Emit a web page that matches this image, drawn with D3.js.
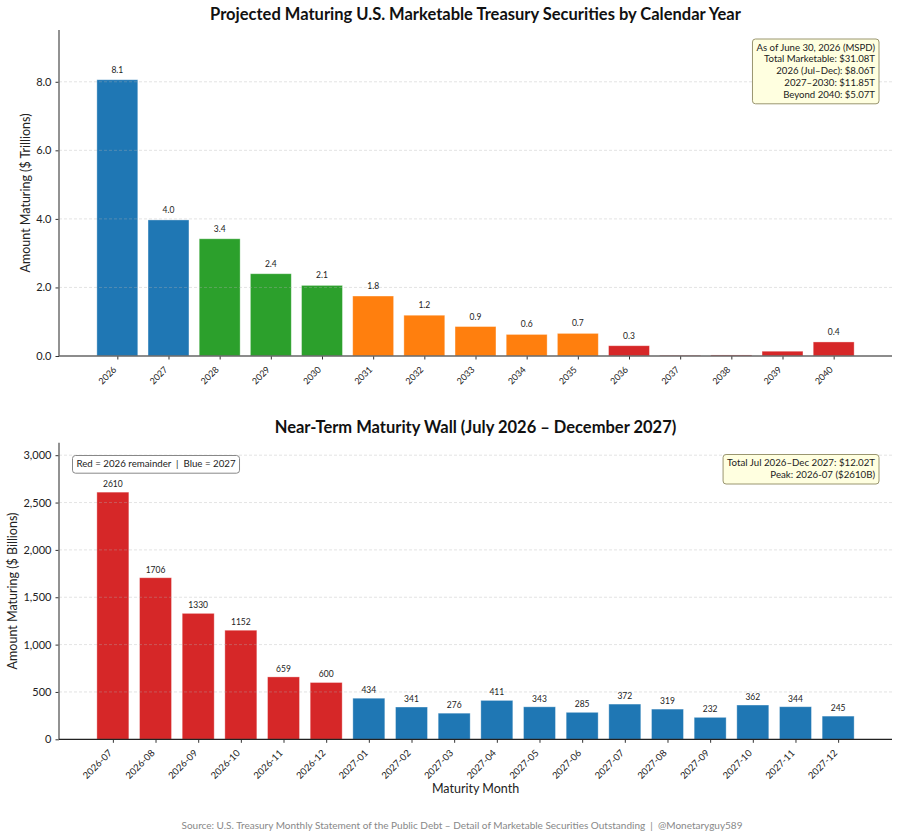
<!DOCTYPE html>
<html><head><meta charset="utf-8">
<script src="https://cdn.jsdelivr.net/npm/d3@7"></script>
<style>
body{margin:0;background:#fff;}
svg text{font-family:Lato,"Noto Sans",sans-serif;}
</style></head>
<body><svg id="c" width="900" height="840"></svg>
<script>
// ---------- data ----------
const years = ["2026","2027","2028","2029","2030","2031","2032","2033","2034","2035","2036","2037","2038","2039","2040"];
const yearValues = [8.06, 3.97, 3.42, 2.40, 2.06, 1.75, 1.19, 0.86, 0.63, 0.66, 0.30, 0.02, 0.03, 0.14, 0.41];
const yearGroups = ["near","near","mid","mid","mid","ten","ten","ten","ten","ten","long","long","long","long","long"];
const yearTicks = [0, 2, 4, 6, 8];
const yearNotes = ["As of June 30, 2026 (MSPD)","Total Marketable: $31.08T","2026 (Jul\u2013Dec): $8.06T","2027\u20132030: $11.85T","Beyond 2040: $5.07T"];

const months = ["2026-07","2026-08","2026-09","2026-10","2026-11","2026-12","2027-01","2027-02","2027-03","2027-04","2027-05","2027-06","2027-07","2027-08","2027-09","2027-10","2027-11","2027-12"];
const monthValues = [2610, 1706, 1330, 1152, 659, 600, 434, 341, 276, 411, 343, 285, 372, 319, 232, 362, 344, 245];
const monthTicks = [0, 500, 1000, 1500, 2000, 2500, 3000];
const monthNotes = ["Total Jul 2026\u2013Dec 2027: $12.02T","Peak: 2026-07 ($2610B)"];
const monthLegend = "Red = 2026 remainder  |  Blue = 2027";

const groupColor = {near:"#1f77b4", mid:"#2ca02c", ten:"#ff7f0e", long:"#d62728"};
const red = "#d62728", blue = "#1f77b4";

const svg = d3.select("#c");

function drawPanel(o){
  const g = svg.append("g");
  const x = d3.scaleLinear().domain(o.xdom).range([o.left, o.right]);
  const y = d3.scaleLinear().domain(o.ydom).range([o.bottom, o.top]);
  // bars
  g.selectAll("rect.bar").data(o.values).join("rect")
    .attr("x",(d,i)=>x(i-o.bw/2)).attr("width",(d,i)=>x(i+o.bw/2)-x(i-o.bw/2))
    .attr("y",d=>y(d)).attr("height",d=>y(0)-y(d))
    .attr("fill",(d,i)=>o.color(i)).attr("stroke","#fff").attr("stroke-opacity",0.45).attr("stroke-width",0.8);
  // grid (drawn above, faint)
  g.selectAll("line.grid").data(o.ticks.filter(t=>t>0)).join("line")
    .attr("x1",o.left).attr("x2",o.right).attr("y1",d=>y(d)).attr("y2",d=>y(d))
    .attr("stroke","#b0b0b0").attr("stroke-opacity",0.45).attr("stroke-dasharray","3,2").attr("stroke-width",0.8);
  // value labels
  g.selectAll("text.val").data(o.values).join("text")
    .attr("x",(d,i)=>x(i)).attr("y",d=>y(d)-o.labOff)
    .attr("text-anchor","middle").attr("font-size",o.labSize).attr("fill","#222")
    .text((d,i)=>o.label(d,i));
  // y axis
  const ya = g.append("g").attr("transform",`translate(${o.left},0)`)
    .call(d3.axisLeft(y).tickValues(o.ticks).tickFormat(o.yfmt).tickSize(3.5).tickPadding(4));
  ya.select(".domain").remove();
  ya.selectAll(".tick line").attr("stroke","#333");
  ya.selectAll(".tick text").attr("font-size",11).attr("fill","#222");
  g.append("line").attr("x1",o.left).attr("x2",o.left).attr("y1",o.top).attr("y2",o.bottom)
    .attr("stroke","#777").attr("stroke-width",1.6);
  // x axis
  const xa = g.append("g").attr("transform",`translate(0,${o.bottom})`)
    .call(d3.axisBottom(x).tickValues(d3.range(o.cats.length)).tickFormat(i=>o.cats[i]).tickSize(3.5).tickPadding(3));
  xa.select(".domain").remove();
  xa.selectAll(".tick line").attr("stroke","#333");
  xa.selectAll(".tick text").attr("font-size",o.xSize).attr("fill","#222")
    .attr("text-anchor","end").attr("x",0).attr("y",0).attr("dy","0.35em")
    .attr("transform","translate(-3,12) rotate(-45)");
  g.append("line").attr("x1",o.left).attr("x2",o.right).attr("y1",o.bottom).attr("y2",o.bottom)
    .attr("stroke",o.xSpine).attr("stroke-width",1.3);
  // title
  g.append("text").attr("x",(o.left+o.right)/2).attr("y",o.titleY).attr("text-anchor","middle")
    .attr("font-size",16.5).attr("font-weight","bold").attr("fill","#111").text(o.title);
  // y label
  g.append("text").attr("transform",`translate(${o.ylabX},${(o.top+o.bottom)/2}) rotate(-90)`)
    .attr("text-anchor","middle").attr("font-size",12.5).attr("fill","#222").text(o.ylab);
  return {g,x,y};
}

function noteBox(g, lines, xr, ytop, opts){
  const lh = opts.lh, fs = opts.fs, pad = 4;
  const t = g.append("g");
  const texts = t.selectAll("text").data(lines).join("text")
    .attr("x", opts.anchor==="end" ? xr - pad : xr + pad)
    .attr("y",(d,i)=>ytop + pad + fs*0.8 + i*lh)
    .attr("text-anchor", opts.anchor).attr("font-size",fs).attr("fill","#222")
    .style("white-space","pre").text(d=>d);
  let w = 0; texts.each(function(){ w = Math.max(w, this.getComputedTextLength()); });
  const h = lh*(lines.length-1) + fs + pad*2;
  const bx = opts.anchor==="end" ? xr - w - pad*2 : xr;
  t.insert("rect","text").attr("x",bx).attr("y",ytop).attr("width",w+pad*2).attr("height",h)
    .attr("rx",3).attr("fill",opts.fill).attr("stroke",opts.stroke).attr("stroke-width",1);
}

// ---------- top panel ----------
const p1 = drawPanel({
  cats: years, values: yearValues, bw: 0.8,
  xdom: [-1.14, years.length - 1 + 1.14], ydom: [0, d3.max(yearValues)*1.18],
  left: 59, right: 892, top: 30, bottom: 356,
  color: i=>groupColor[yearGroups[i]], ticks: yearTicks, yfmt: d3.format(".1f"),
  label: d=> d>=0.2 ? d.toFixed(1) : "", labOff: 7, labSize: 8.5, xSize: 9,
  xSpine: "#666", title: "Projected Maturing U.S. Marketable Treasury Securities by Calendar Year",
  titleY: 20, ylab: "Amount Maturing ($ Trillions)", ylabX: 30
});
noteBox(p1.g, yearNotes, 879, 39, {lh:11.8, fs:9.6, anchor:"end", fill:"#ffffe0", stroke:"#9a9670"});

// ---------- bottom panel ----------
const p2 = drawPanel({
  cats: months, values: monthValues, bw: 0.75,
  xdom: [-1.2625, months.length - 1 + 1.2625], ydom: [0, d3.max(monthValues)*1.2],
  left: 59, right: 892, top: 442.7, bottom: 739.3,
  color: i=> months[i].startsWith("2026") ? red : blue, ticks: monthTicks, yfmt: d3.format(","),
  label: d=> String(d), labOff: 5, labSize: 8.5, xSize: 9.5,
  xSpine: "#222", title: "Near-Term Maturity Wall (July 2026 \u2013 December 2027)",
  titleY: 433, ylab: "Amount Maturing ($ Billions)", ylabX: 17
});
noteBox(p2.g, monthNotes, 879, 454.5, {lh:11.8, fs:9.7, anchor:"end", fill:"#ffffe0", stroke:"#9a9670"});
noteBox(p2.g, [monthLegend], 72.5, 455.5, {lh:11.8, fs:9.7, anchor:"start", fill:"#fff", stroke:"#888"});
svg.append("text").attr("x",475.5).attr("y",793).attr("text-anchor","middle")
  .attr("font-size",12.5).attr("fill","#222").text("Maturity Month");

// footer
svg.append("text").attr("x",462).attr("y",829).attr("text-anchor","middle")
  .attr("font-size",10).attr("fill","#888").style("white-space","pre")
  .text("Source: U.S. Treasury Monthly Statement of the Public Debt \u2013 Detail of Marketable Securities Outstanding  |  @Monetaryguy589");
</script></body></html>
